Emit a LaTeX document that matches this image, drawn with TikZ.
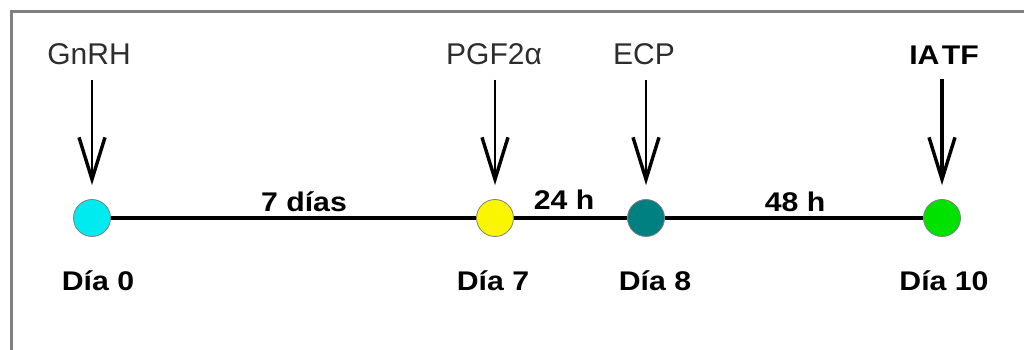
\documentclass[tikz,border=0pt]{standalone}
\usepackage{fontspec}
\setmainfont{Liberation Sans}
\usepackage{graphicx}
\usepackage{tikz}
\usetikzlibrary{arrows.meta,positioning}
\definecolor{frameGray}{RGB}{128,128,128}
\definecolor{dayCyan}{RGB}{0,235,240}
\definecolor{dayYellow}{RGB}{250,245,0}
\definecolor{dayTeal}{RGB}{0,128,128}
\definecolor{dayGreen}{RGB}{0,225,0}
\definecolor{labelGray}{RGB}{45,45,45}
\newcommand{\widetxt}[1]{\scalebox{1.12}[1]{#1}}

\begin{document}
\begin{tikzpicture}[>={Straight Barb[length=42pt,width=26pt,line width=3.4pt]},
  x=1pt,y=1pt,line width=2.5pt]
\useasboundingbox (0,0) rectangle (1024,350);
\draw[frameGray,line width=3pt] (11.5,0) -- (11.5,338.5) -- (1024,338.5);

\tikzstyle{every node}=[circle,draw=gray,line width=.8pt,minimum size=37pt,inner sep=0pt]
\draw (92,132) node[fill = dayCyan] (d0) {};
\draw (495,132) node[fill = dayYellow] (d7) {};
\draw (646,132) node[fill = dayTeal] (d8) {};
\draw (942,132) node[fill = dayGreen] (d10) {};

\tikzstyle{every node}=[font=\fontsize{30}{32}\selectfont,text=labelGray,inner sep=0pt,anchor=base]
\draw (89,285) node[] (gnrh) {GnRH};
\draw (494,285) node[] (pgf) {PGF2α};
\draw (644,285) node[] (ecp) {ECP};
\draw (944,285) node[font=\fontsize{27}{30}\selectfont\bfseries,text=black] (iatf) {\widetxt{IA\kern2pt TF}};

\tikzstyle{every node}=[font=\fontsize{27}{30}\selectfont\bfseries,inner sep=0pt,anchor=base]
\draw (98,59) node[] (dia0) {\widetxt{Día 0}};
\draw (493,59) node[] (dia7) {\widetxt{Día 7}};
\draw (655,59) node[] (dia8) {\widetxt{Día 8}};
\draw (944,59) node[] (dia10) {\widetxt{Día 10}};
\draw (304,138) node[] (sieted) {\widetxt{7 días}};
\draw (564,140) node[] (h24) {\widetxt{24 h}};
\draw (795,138) node[] (h48) {\widetxt{48 h}};

\draw[line width=4.5pt] (d0) -- (d7);
\draw[line width=4.5pt] (d7) -- (d8);
\draw[line width=4.5pt] (d8) -- (d10);

\draw[->,shorten <=13pt,shorten >=14pt] (gnrh.south -| d0) -- (d0.north);
\draw[->,shorten <=13pt,shorten >=14pt] (pgf.south -| d7) -- (d7.north);
\draw[->,shorten <=13pt,shorten >=14pt] (ecp.south -| d8) -- (d8.north);
\draw[->,line width=3.5pt,shorten <=13pt,shorten >=14pt] (iatf.south -| d10) -- (d10.north);

\end{tikzpicture}
\end{document}
